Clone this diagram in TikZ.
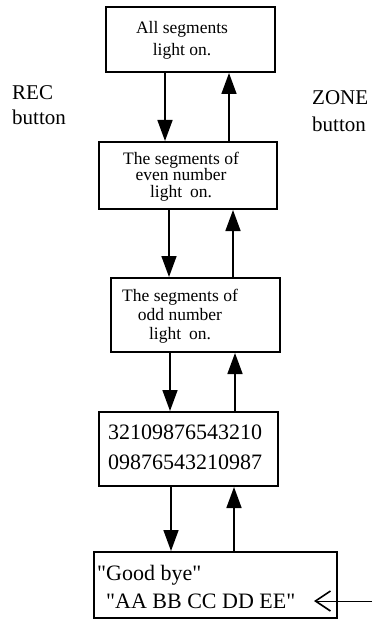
\documentclass[tikz,border=0pt]{standalone}
\usepackage{fontspec}
\setmainfont{Liberation Serif}[Ligatures=TeXOff]
\usetikzlibrary{arrows.meta}
\begin{document}
\begin{tikzpicture}[x=1pt,y=-1pt,
  box/.style={draw, line width=2pt, inner sep=0pt, rectangle},
  txt/.style={inner sep=0pt, align=center},
  small/.style={font=\fontsize{17.5}{#1}\selectfont},
  big/.style={font=\fontsize{22}{#1}\selectfont},
  lbl/.style={inner sep=0pt, align=left, anchor=west, font=\fontsize{21}{#1}\selectfont},
  arr/.style={line width=1.6pt, -{Triangle[length=21pt,width=15pt]}},
  barb/.style={line width=0.9pt, -{Straight Barb[length=15pt,width=20pt,line width=1.6pt]}},
]
\useasboundingbox (0,0) rectangle (372,620);
% boxes
\node[box, minimum width=169pt, minimum height=65pt] (b1) at (190.5,39.5) {};
\node[box, minimum width=178pt, minimum height=67pt] (b2) at (188,175.5) {};
\node[box, minimum width=169pt, minimum height=74pt] (b3) at (195.5,315) {};
\node[box, minimum width=179pt, minimum height=74pt] (b4) at (188.5,449) {};
\node[box, minimum width=243pt, minimum height=66pt] (b5) at (215.5,585) {};
% texts
\node[txt, small=22] (t1) at (182,40) {All segments\\light on.};
\node[txt, small=16.5] (t2) at (181,176.5) {The segments of\\even number\\light\hspace{0.45em}on.};
\node[txt, small=19] (t3) at (180,316) {The segments of\\odd number\\light\hspace{0.45em}on.};
\node[txt, big=30] (t4) at (185,447) {32109876543210\\09876543210987};
\node[inner sep=0pt, align=left, anchor=west, big=28] (t5) at (97,587) {"Good bye"\\\hspace{9pt}"AA BB CC DD EE"};
% side labels
\node[lbl=25] (rec) at (12,105.5) {REC\\button};
\node[lbl=27] (zone) at (312,111.5) {ZONE\\button};
% arrow x positions
\coordinate (d1) at (165,0);
\coordinate (u1) at (229,0);
\coordinate (d2) at (169,0);
\coordinate (u2) at (233,0);
\coordinate (d3) at (170,0);
\coordinate (u3) at (235,0);
\coordinate (d4) at (171,0);
\coordinate (u4) at (234,0);
% connectors
\draw[arr] (b1.south -| d1) -- (b2.north -| d1);
\draw[arr] (b2.north -| u1) -- (b1.south -| u1);
\draw[arr] (b2.south -| d2) -- (b3.north -| d2);
\draw[arr] (b3.north -| u2) -- (b2.south -| u2);
\draw[arr] (b3.south -| d3) -- (b4.north -| d3);
\draw[arr] (b4.north -| u3) -- (b3.south -| u3);
\draw[arr] (b4.south -| d4) -- (b5.north -| d4);
\draw[arr] (b5.north -| u4) -- (b4.south -| u4);
% input arrow at right
\coordinate (ein) at (372,601);
\coordinate (etip) at (314,601);
\draw[barb] (ein) -- (etip);
\end{tikzpicture}
\end{document}
